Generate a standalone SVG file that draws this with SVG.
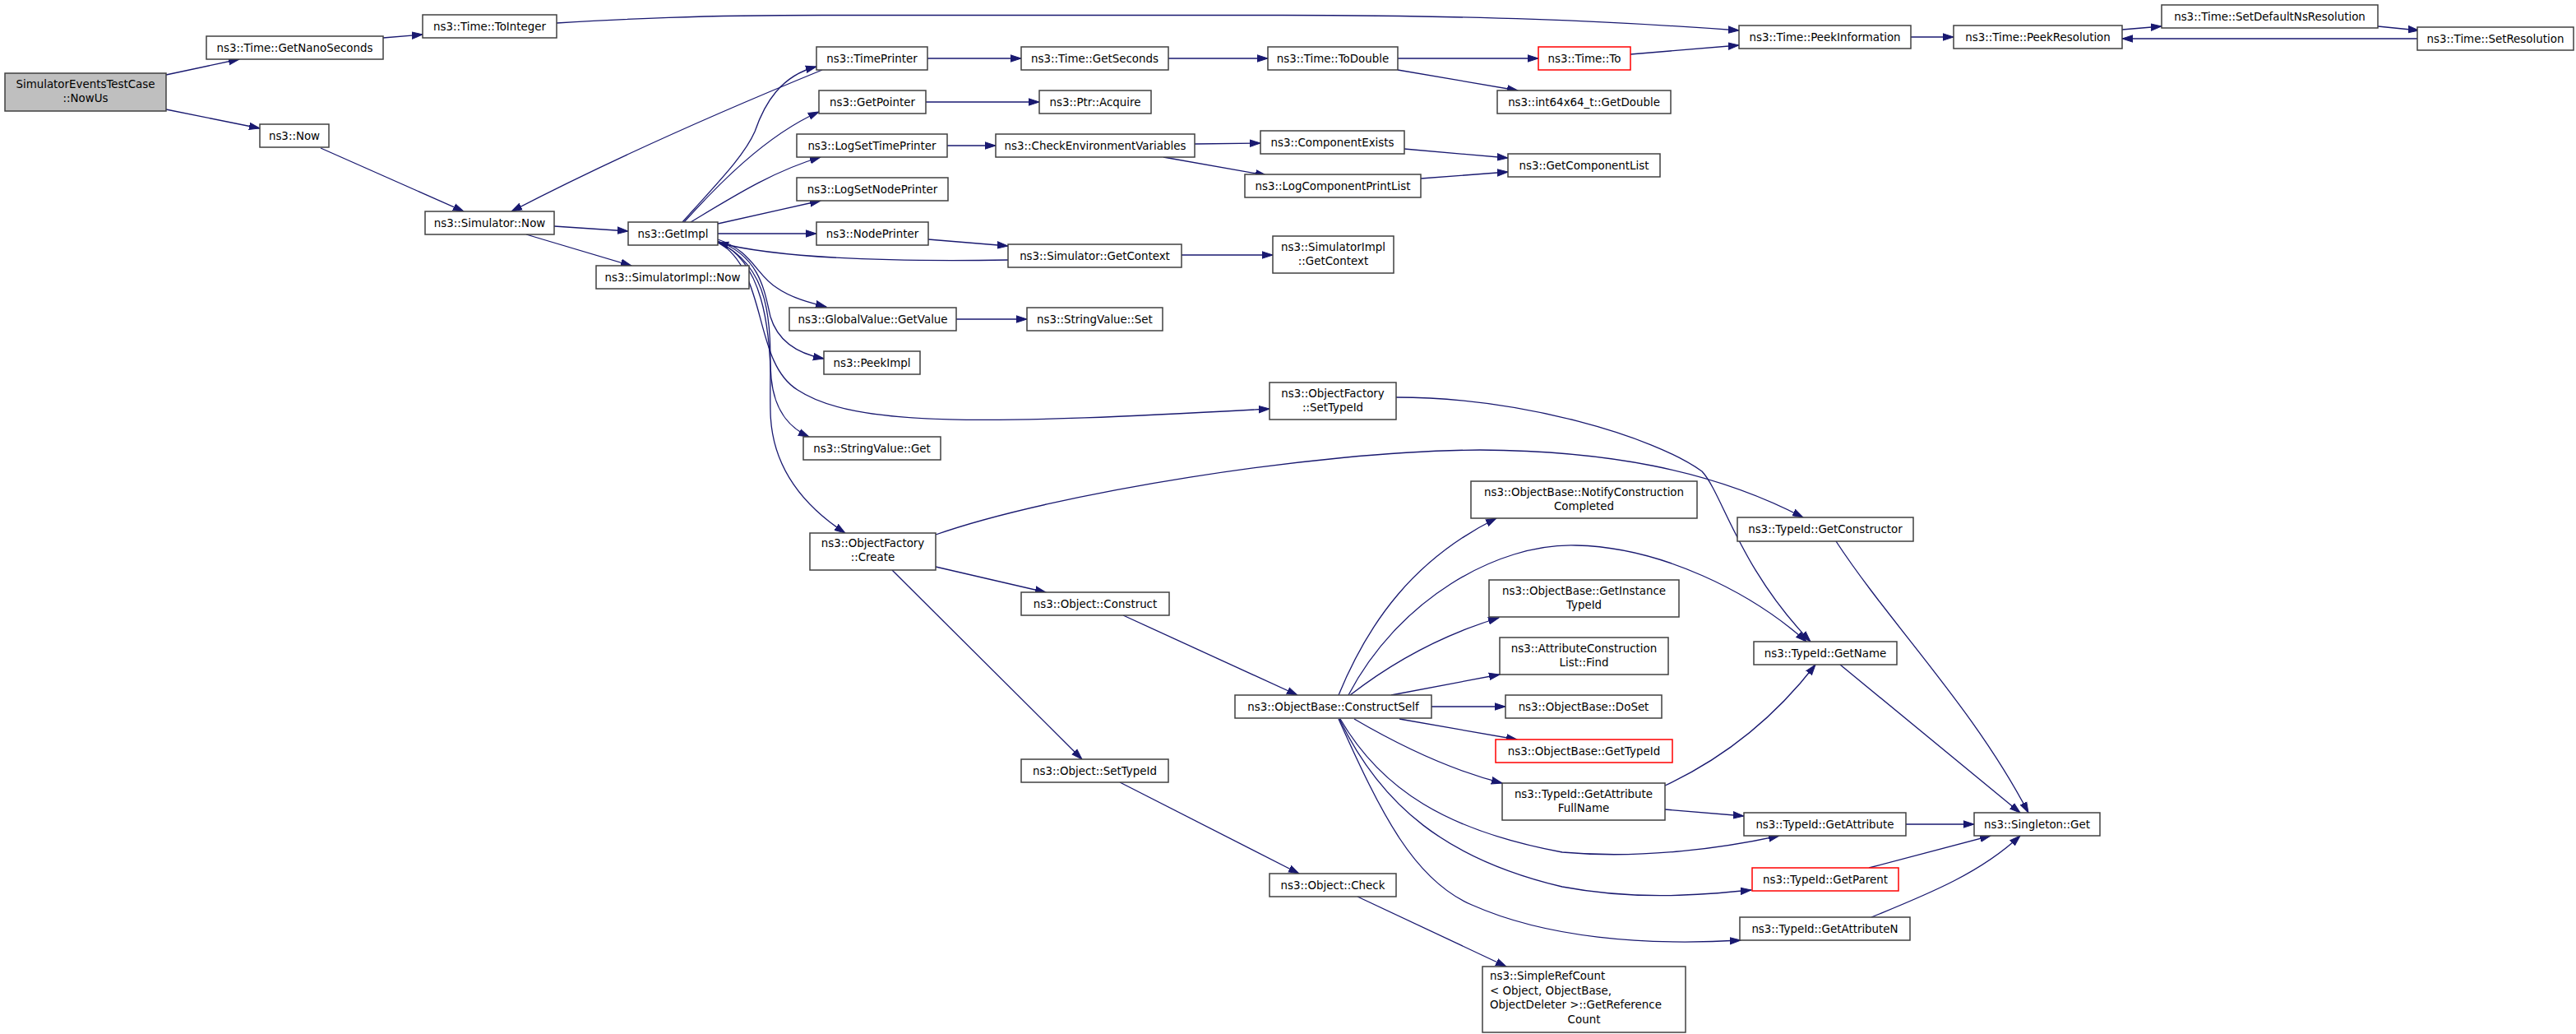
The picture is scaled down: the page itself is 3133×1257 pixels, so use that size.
<svg xmlns="http://www.w3.org/2000/svg" width="3133" height="1257" viewBox="0 0 3133 1257">
<style>
.n rect{fill:#ffffff;stroke:#404040;stroke-width:1.5}
.n.root rect{fill:#bfbfbf}
.n.red rect{stroke:#ff0000}
text{font-family:"DejaVu Sans","Liberation Sans",sans-serif;font-size:13.4px;text-anchor:middle;fill:#000000}
text.l{text-anchor:start}
#edges path{fill:none;stroke:#191970;stroke-width:1.3;marker-end:url(#a)}
</style>
<defs>
<marker id="a" markerWidth="14" markerHeight="10" refX="13" refY="5" orient="auto" markerUnits="userSpaceOnUse">
<path d="M0,0.8 L13,5 L0,9.2 z" fill="#191970" stroke="#191970" stroke-width="1"/>
</marker>
</defs>
<rect width="3133" height="1257" fill="#ffffff"/>
<g id="edges">
<path d="M202,91 L291,72"/>
<path d="M202,133 L316,156"/>
<path d="M466,46 L514,42"/>
<path d="M677,28 C760,23 850,18.5 1000,18.5 L1560,18.5 C1800,19 1950,25 2115,37"/>
<path d="M390,180 L564,257"/>
<path d="M674,275 L764,281"/>
<path d="M640,285 L768,323"/>
<path d="M1000,85 Q780,175 622,257"/>
<path d="M830,270 C870,225 905,190 918,160 C930,125 950,92 993,81"/>
<path d="M832,270 C870,228 930,165 996,136"/>
<path d="M840,270 C890,240 940,208 998,191"/>
<path d="M873,272 L998,244"/>
<path d="M873,284 L993,284"/>
<path d="M1226,316 C1100,318 950,315 873,295"/>
<path d="M1129,291 L1226,299"/>
<path d="M1437,310 L1548,310"/>
<path d="M873,291 C915,305 920,335 945,350 C962,362 985,368 1005,373"/>
<path d="M873,293 C925,312 930,355 937,385 C946,415 970,430 1002,436"/>
<path d="M873,294 C935,330 915,440 970,474 C1040,520 1200,516 1544,497"/>
<path d="M873,294 C935,320 935,420 938,460 C942,500 960,520 984,531"/>
<path d="M873,294 C950,330 935,420 937,500 C938,560 970,610 1028,648"/>
<path d="M1128,71 L1242,71"/>
<path d="M1126,124 L1264,124"/>
<path d="M1152,177 L1211,177"/>
<path d="M1421,71 L1542,71"/>
<path d="M1453,175 L1533,174"/>
<path d="M1415,191 L1540,213"/>
<path d="M1700,71 L1871,71"/>
<path d="M1700,85 L1846,110"/>
<path d="M1708,181 L1834,192"/>
<path d="M1728,217 L1834,209"/>
<path d="M1983,66 L2115,55"/>
<path d="M2324,45 L2376,45"/>
<path d="M2581,36 L2629,32"/>
<path d="M2892,32 L2942,37"/>
<path d="M2940,47 L2581,47"/>
<path d="M1163,388 L1249,388"/>
<path d="M1698,483 C1850,483 2010,530 2070,573 C2095,600 2115,690 2202,780"/>
<path d="M1138,650 C1280,600 1600,548 1800,547 C1950,548 2080,570 2193,629"/>
<path d="M1138,689 L1272,720"/>
<path d="M1085,693 L1316,923"/>
<path d="M1366,748 L1578,845"/>
<path d="M1362,951 L1580,1062"/>
<path d="M1651,1090 L1832,1175"/>
<path d="M1628,845 C1665,755 1720,680 1820,630"/>
<path d="M1640,845 C1700,730 1820,660 1917,663 C2020,665 2130,720 2197,780"/>
<path d="M1642,845 C1700,800 1760,770 1823,751"/>
<path d="M1692,845 L1824,820"/>
<path d="M1741,859 L1831,859"/>
<path d="M1702,874 L1845,899"/>
<path d="M1647,874 C1700,905 1760,935 1827,952"/>
<path d="M1630,874 C1680,960 1760,1010 1900,1036 C2000,1045 2100,1030 2164,1016"/>
<path d="M1629,874 C1680,980 1760,1045 1900,1078 C1990,1095 2070,1088 2130,1082"/>
<path d="M1628,874 C1680,990 1720,1070 1790,1100 C1880,1140 2000,1150 2117,1143"/>
<path d="M2025,955 C2100,920 2160,870 2208,808"/>
<path d="M2025,984 L2121,992"/>
<path d="M2233,658 C2300,760 2400,860 2467,988"/>
<path d="M2238,808 L2457,988"/>
<path d="M2318,1002 L2401,1002"/>
<path d="M2273,1055 L2421,1016"/>
<path d="M2276,1115 C2350,1085 2410,1060 2457,1016"/>
</g>
<g id="n_root" class="n root"><rect x="6" y="89" width="196" height="46"/><text x="104" y="107">SimulatorEventsTestCase</text><text x="104" y="124">::NowUs</text></g>
<g id="n_getnanoseconds" class="n"><rect x="251" y="44" width="215" height="28"/><text x="358.5" y="63">ns3::Time::GetNanoSeconds</text></g>
<g id="n_tointeger" class="n"><rect x="514" y="18" width="163" height="28"/><text x="595.5" y="37">ns3::Time::ToInteger</text></g>
<g id="n_now" class="n"><rect x="316" y="151" width="84" height="28"/><text x="358" y="170">ns3::Now</text></g>
<g id="n_simnow" class="n"><rect x="517" y="257" width="157" height="28"/><text x="595.5" y="276">ns3::Simulator::Now</text></g>
<g id="n_getimpl" class="n"><rect x="764" y="270" width="109" height="28"/><text x="818.5" y="289">ns3::GetImpl</text></g>
<g id="n_simimplnow" class="n"><rect x="725" y="323" width="186" height="28"/><text x="818" y="342">ns3::SimulatorImpl::Now</text></g>
<g id="n_timeprinter" class="n"><rect x="993" y="57" width="135" height="28"/><text x="1060.5" y="76">ns3::TimePrinter</text></g>
<g id="n_getpointer" class="n"><rect x="996" y="110" width="130" height="28"/><text x="1061" y="129">ns3::GetPointer</text></g>
<g id="n_logsettimeprinter" class="n"><rect x="969" y="163" width="183" height="28"/><text x="1060.5" y="182">ns3::LogSetTimePrinter</text></g>
<g id="n_logsetnodeprinter" class="n"><rect x="969" y="216" width="184" height="28"/><text x="1061" y="235">ns3::LogSetNodePrinter</text></g>
<g id="n_nodeprinter" class="n"><rect x="993" y="270" width="136" height="28"/><text x="1061" y="289">ns3::NodePrinter</text></g>
<g id="n_simgetcontext" class="n"><rect x="1226" y="297" width="211" height="28"/><text x="1331.5" y="316">ns3::Simulator::GetContext</text></g>
<g id="n_globalvalue" class="n"><rect x="960" y="374" width="203" height="28"/><text x="1061.5" y="393">ns3::GlobalValue::GetValue</text></g>
<g id="n_stringvalueset" class="n"><rect x="1249" y="374" width="165" height="28"/><text x="1331.5" y="393">ns3::StringValue::Set</text></g>
<g id="n_peekimpl" class="n"><rect x="1002" y="427" width="117" height="28"/><text x="1060.5" y="446">ns3::PeekImpl</text></g>
<g id="n_stringvalueget" class="n"><rect x="977" y="531" width="167" height="28"/><text x="1060.5" y="550">ns3::StringValue::Get</text></g>
<g id="n_objconstruct" class="n"><rect x="1242" y="720" width="180" height="28"/><text x="1332" y="739">ns3::Object::Construct</text></g>
<g id="n_objsettypeid" class="n"><rect x="1242" y="923" width="179" height="28"/><text x="1331.5" y="942">ns3::Object::SetTypeId</text></g>
<g id="n_objcheck" class="n"><rect x="1544" y="1062" width="154" height="28"/><text x="1621" y="1081">ns3::Object::Check</text></g>
<g id="n_getseconds" class="n"><rect x="1242" y="57" width="179" height="28"/><text x="1331.5" y="76">ns3::Time::GetSeconds</text></g>
<g id="n_acquire" class="n"><rect x="1264" y="110" width="136" height="28"/><text x="1332" y="129">ns3::Ptr::Acquire</text></g>
<g id="n_checkenv" class="n"><rect x="1211" y="163" width="242" height="28"/><text x="1332" y="182">ns3::CheckEnvironmentVariables</text></g>
<g id="n_todouble" class="n"><rect x="1542" y="57" width="158" height="28"/><text x="1621" y="76">ns3::Time::ToDouble</text></g>
<g id="n_componentexists" class="n"><rect x="1533" y="159" width="175" height="28"/><text x="1620.5" y="178">ns3::ComponentExists</text></g>
<g id="n_logcomponentprintlist" class="n"><rect x="1514" y="212" width="214" height="28"/><text x="1621" y="231">ns3::LogComponentPrintList</text></g>
<g id="n_simimplgetcontext" class="n"><rect x="1548" y="287" width="147" height="45"/><text x="1621.5" y="305">ns3::SimulatorImpl</text><text x="1621.5" y="322">::GetContext</text></g>
<g id="n_factorysettypeid" class="n"><rect x="1544" y="465" width="154" height="45"/><text x="1621" y="483">ns3::ObjectFactory</text><text x="1621" y="500">::SetTypeId</text></g>
<g id="n_factorycreate" class="n"><rect x="985" y="648" width="153" height="45"/><text x="1061.5" y="665">ns3::ObjectFactory</text><text x="1061.5" y="682">::Create</text></g>
<g id="n_timeto" class="n red"><rect x="1871" y="57" width="112" height="28"/><text x="1927" y="76">ns3::Time::To</text></g>
<g id="n_getdouble" class="n"><rect x="1821" y="110" width="211" height="28"/><text x="1926.5" y="129">ns3::int64x64_t::GetDouble</text></g>
<g id="n_getcomponentlist" class="n"><rect x="1834" y="187" width="185" height="28"/><text x="1926.5" y="206">ns3::GetComponentList</text></g>
<g id="n_peekinformation" class="n"><rect x="2115" y="31" width="209" height="28"/><text x="2219.5" y="50">ns3::Time::PeekInformation</text></g>
<g id="n_peekresolution" class="n"><rect x="2376" y="31" width="205" height="28"/><text x="2478.5" y="50">ns3::Time::PeekResolution</text></g>
<g id="n_setdefaultns" class="n"><rect x="2629" y="6" width="263" height="28"/><text x="2760.5" y="25">ns3::Time::SetDefaultNsResolution</text></g>
<g id="n_setresolution" class="n"><rect x="2940" y="33" width="190" height="28"/><text x="3035" y="52">ns3::Time::SetResolution</text></g>
<g id="n_notifyconstruction" class="n"><rect x="1789" y="585" width="275" height="45"/><text x="1926.5" y="603">ns3::ObjectBase::NotifyConstruction</text><text x="1926.5" y="620">Completed</text></g>
<g id="n_getconstructor" class="n"><rect x="2113" y="629" width="214" height="29"/><text x="2220" y="648">ns3::TypeId::GetConstructor</text></g>
<g id="n_getinstancetypeid" class="n"><rect x="1811" y="705" width="231" height="45"/><text x="1926.5" y="723">ns3::ObjectBase::GetInstance</text><text x="1926.5" y="740">TypeId</text></g>
<g id="n_attrconstructionlist" class="n"><rect x="1824" y="775" width="205" height="45"/><text x="1926.5" y="793">ns3::AttributeConstruction</text><text x="1926.5" y="810">List::Find</text></g>
<g id="n_constructself" class="n"><rect x="1502" y="845" width="239" height="28"/><text x="1621.5" y="864">ns3::ObjectBase::ConstructSelf</text></g>
<g id="n_doset" class="n"><rect x="1831" y="845" width="190" height="28"/><text x="1926" y="864">ns3::ObjectBase::DoSet</text></g>
<g id="n_objbasegettypeid" class="n red"><rect x="1819" y="899" width="215" height="28"/><text x="1926.5" y="918">ns3::ObjectBase::GetTypeId</text></g>
<g id="n_getattributefullname" class="n"><rect x="1827" y="952" width="198" height="45"/><text x="1926" y="970">ns3::TypeId::GetAttribute</text><text x="1926" y="987">FullName</text></g>
<g id="n_getname" class="n"><rect x="2133" y="780" width="174" height="28"/><text x="2220" y="799">ns3::TypeId::GetName</text></g>
<g id="n_getattribute" class="n"><rect x="2121" y="988" width="197" height="28"/><text x="2219.5" y="1007">ns3::TypeId::GetAttribute</text></g>
<g id="n_getparent" class="n red"><rect x="2131" y="1055" width="178" height="28"/><text x="2220" y="1074">ns3::TypeId::GetParent</text></g>
<g id="n_getattributen" class="n"><rect x="2116" y="1115" width="207" height="28"/><text x="2219.5" y="1134">ns3::TypeId::GetAttributeN</text></g>
<g id="n_singletonget" class="n"><rect x="2401" y="988" width="153" height="28"/><text x="2477.5" y="1007">ns3::Singleton::Get</text></g>
<g id="n_simplerefcount" class="n"><rect x="1803" y="1175" width="247" height="80"/><text class="l" x="1812" y="1191">ns3::SimpleRefCount</text><text class="l" x="1812" y="1209">&lt; Object, ObjectBase,</text><text class="l" x="1812" y="1226"> ObjectDeleter &gt;::GetReference</text><text x="1926.5" y="1244">Count</text></g>
</svg>
